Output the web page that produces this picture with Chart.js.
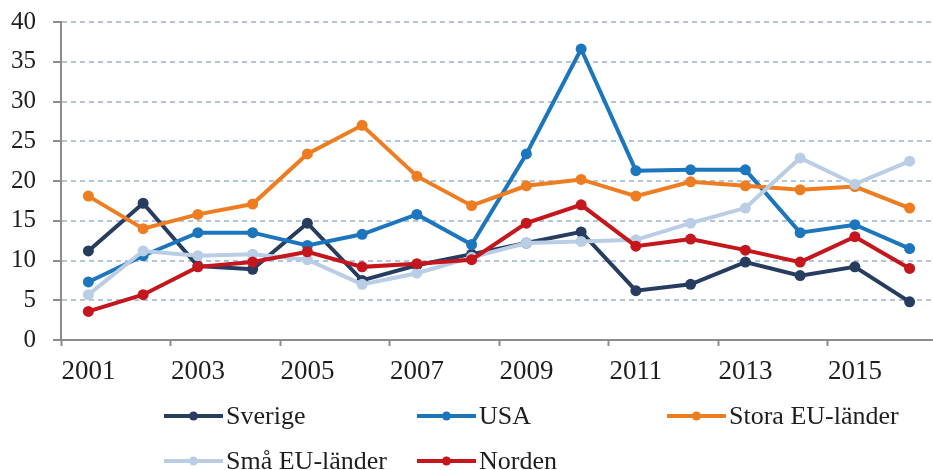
<!DOCTYPE html>
<html lang="sv">
<head>
<meta charset="utf-8">
<title>Andel per region 2001–2016</title>
<script src="https://cdn.jsdelivr.net/npm/chart.js@4/dist/chart.umd.min.js"></script>
<style>
  html, body { margin: 0; padding: 0; background: #fff; overflow: hidden; }
  #wrap { width: 933px; height: 470px; position: relative; overflow: hidden; }
  #lineChart { display: block; }
</style>
</head>
<body>
<!-- the plot area runs slightly past the right edge, so the canvas is a bit wider than the frame -->
<div id="wrap"><canvas id="lineChart" width="937" height="470"></canvas></div>
<script>
"use strict";

// ─── Data ─────────────────────────────────────────────────
const years = ["2001","2002","2003","2004","2005","2006","2007","2008",
               "2009","2010","2011","2012","2013","2014","2015","2016"];

const sverige  = [11.2, 17.2, 9.3, 8.9, 14.7, 7.5, 9.4, 10.8, 12.2, 13.6, 6.2, 7.0, 9.8, 8.1, 9.2, 4.8];
const usa      = [7.3, 10.6, 13.5, 13.5, 11.9, 13.3, 15.8, 12.0, 23.4, 36.6, 21.3, 21.4, 21.4, 13.5, 14.5, 11.5];
const storaEU  = [18.1, 14.0, 15.8, 17.1, 23.4, 27.0, 20.6, 16.9, 19.4, 20.2, 18.1, 19.9, 19.4, 18.9, 19.3, 16.6];
const smaEU    = [5.7, 11.2, 10.6, 10.8, 10.1, 7.0, 8.4, 10.4, 12.2, 12.4, 12.6, 14.7, 16.6, 22.9, 19.6, 22.5];
const norden   = [3.6, 5.7, 9.2, 9.8, 11.1, 9.2, 9.6, 10.1, 14.7, 17.0, 11.8, 12.7, 11.3, 9.8, 13.0, 9.0];

const seriesNames = ["Sverige", "USA", "Stora EU-länder", "Små EU-länder", "Norden"];
const yTicks = { min: 0, max: 40, step: 5 };

// ─── Palette ──────────────────────────────────────────────
const COLORS = {
  navy:   "#263d5f",
  blue:   "#1c76bd",
  orange: "#ee7d22",
  light:  "#b9cde5",
  red:    "#c4161c",
};
const FONT = "'Liberation Serif', 'Times New Roman', serif";
const AXIS_GREY = "#8c8c8c";
const TEXT = "#1e1e1e";

function line(label, data, color, order) {
  return {
    label, data,
    borderColor: color,
    backgroundColor: color,
    borderWidth: 4,
    pointRadius: 5.5,
    pointHoverRadius: 6.5,
    pointBorderWidth: 0,
    tension: 0,
    order,
  };
}

// ─── Legend (two rows, fixed columns) ─────────────────────
const gridLegend = {
  id: "gridLegend",
  afterDraw(chart) {
    const { ctx } = chart;
    const slots = [
      { x: 164, y: 416 }, { x: 417, y: 416 }, { x: 667, y: 416 },
      { x: 164, y: 461 }, { x: 417, y: 461 },
    ];
    ctx.save();
    ctx.font = `26px ${FONT}`;
    ctx.textBaseline = "middle";
    chart.data.datasets.forEach((ds, i) => {
      const s = slots[i];
      ctx.strokeStyle = ds.borderColor;
      ctx.lineWidth = 4;
      ctx.beginPath();
      ctx.moveTo(s.x, s.y);
      ctx.lineTo(s.x + 59, s.y);
      ctx.stroke();
      ctx.fillStyle = ds.borderColor;
      ctx.beginPath();
      ctx.arc(s.x + 29.5, s.y, 4.5, 0, Math.PI * 2);
      ctx.fill();
      ctx.fillStyle = TEXT;
      ctx.fillText(ds.label, s.x + 62, s.y + 1);
    });
    ctx.restore();
  },
};

// ─── Chart ────────────────────────────────────────────────
new Chart(document.getElementById("lineChart"), {
  type: "line",
  data: {
    labels: years,
    datasets: [
      line(seriesNames[0], sverige, COLORS.navy,   5),
      line(seriesNames[1], usa,     COLORS.blue,   4),
      line(seriesNames[2], storaEU, COLORS.orange, 3),
      line(seriesNames[3], smaEU,   COLORS.light,  2),
      line(seriesNames[4], norden,  COLORS.red,    1),
    ],
  },
  options: {
    responsive: false,
    animation: false,
    layout: { autoPadding: false, padding: { top: 22, left: 0, right: 0, bottom: 80 } },
    scales: {
      x: {
        offset: true,
        afterFit: (scale) => {
          scale.height = 50;
          scale.paddingLeft = 0;
          scale.paddingRight = 0;
        },
        grid: {
          offset: true,
          drawOnChartArea: false,
          drawTicks: true,
          tickLength: 6,
          tickWidth: 2,
          tickColor: (c) => (c.index % 2 === 0 ? AXIS_GREY : "rgba(0,0,0,0)"),
        },
        border: { display: true, color: AXIS_GREY, width: 2 },
        ticks: {
          autoSkip: false,
          maxRotation: 0,
          padding: 10,
          color: TEXT,
          font: { family: FONT, size: 27 },
          callback: (v, i) => (i % 2 === 0 ? years[i] : ""),
        },
      },
      y: {
        min: yTicks.min,
        max: yTicks.max,
        afterFit: (scale) => {
          scale.width = 61;
          scale.paddingTop = 0;
          scale.paddingBottom = 0;
        },
        grid: {
          color: "#b3c5dc",
          lineWidth: 2,
          tickLength: 8,
          tickColor: AXIS_GREY,
          tickWidth: 2,
          tickBorderDash: [],
        },
        border: { display: true, color: AXIS_GREY, width: 2, dash: [5, 4] },
        ticks: {
          stepSize: yTicks.step,
          padding: 17,
          color: TEXT,
          font: { family: FONT, size: 25 },
        },
      },
    },
    plugins: {
      legend: { display: false },
      tooltip: { mode: "index", intersect: false },
    },
  },
  plugins: [gridLegend],
});
</script>
</body>
</html>
